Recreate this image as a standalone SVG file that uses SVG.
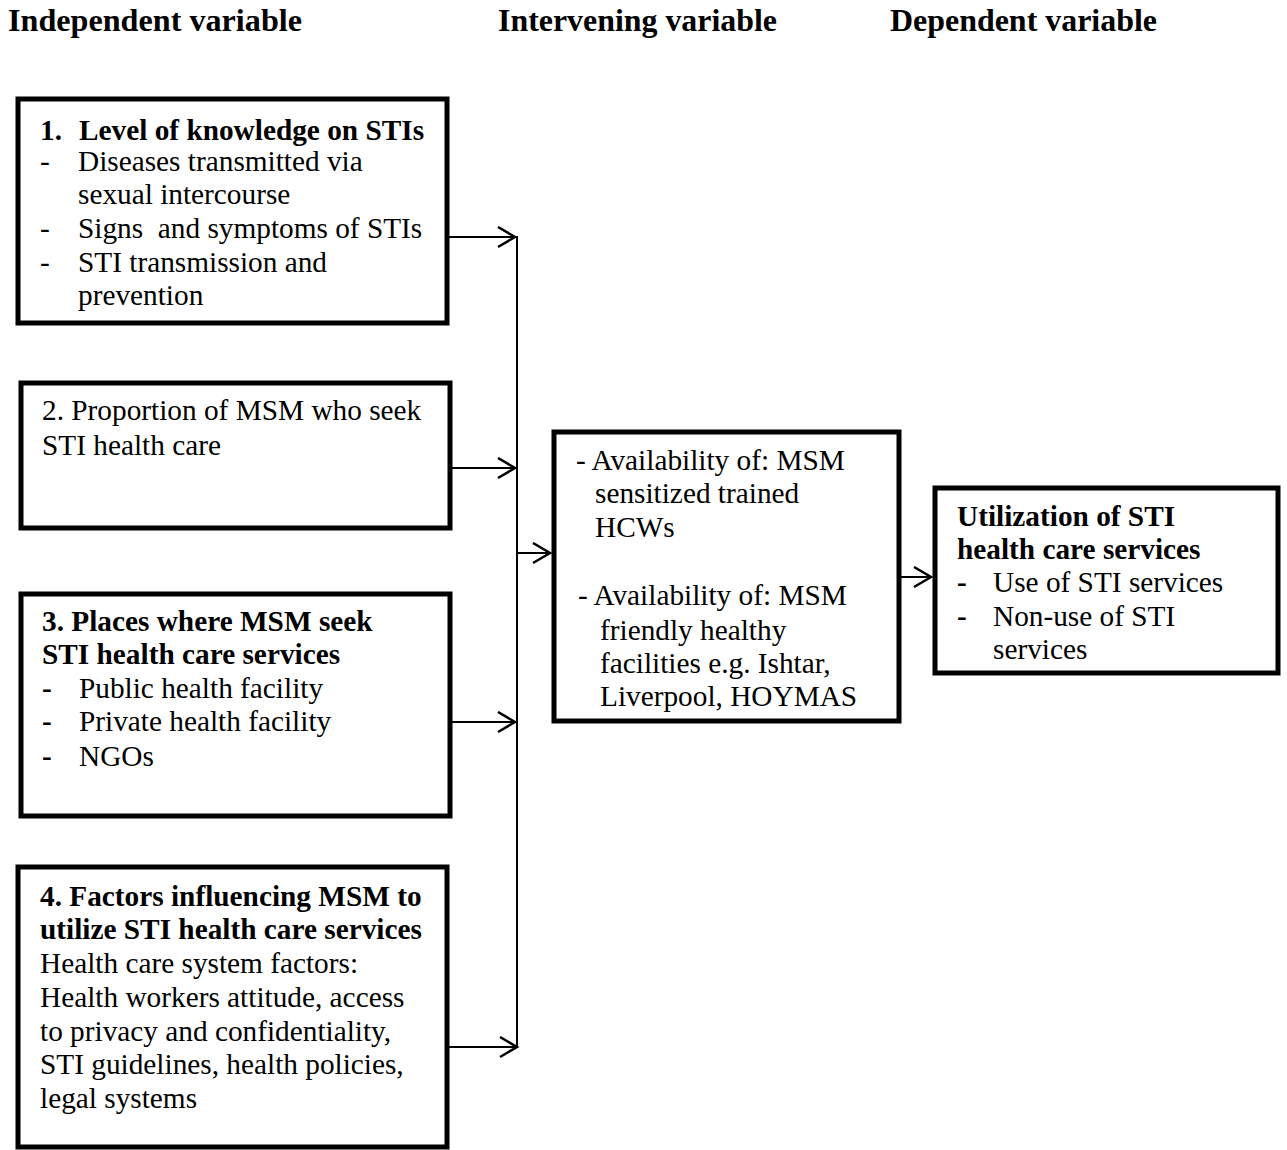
<svg xmlns="http://www.w3.org/2000/svg" width="1287" height="1150" viewBox="0 0 1287 1150">
<style>
text{font-family:"Liberation Serif","Times New Roman",serif;font-size:29.3px;fill:#000}
.h{font-weight:bold;font-size:31px}
.b{font-weight:bold}
.box{fill:#fff;stroke:#000;stroke-width:5}
.con{stroke:#000;stroke-width:2;fill:none}
</style>
<defs>
<marker id="arr" markerUnits="userSpaceOnUse" markerWidth="22" markerHeight="24" refX="19" refY="11" orient="auto">
<path d="M2,1 L19,11 L2,21" fill="none" stroke="#000" stroke-width="2.5"/>
</marker>
</defs>
<rect width="1287" height="1150" fill="#fff"/>
<g id="headers">
<text class="h" x="8" y="31" textLength="294" lengthAdjust="spacingAndGlyphs">Independent variable</text>
<text class="h" x="498" y="31" textLength="279" lengthAdjust="spacingAndGlyphs">Intervening variable</text>
<text class="h" x="890" y="31" textLength="267" lengthAdjust="spacingAndGlyphs">Dependent variable</text>
</g>
<g id="connectors">
<line class="con" x1="517" y1="236" x2="517" y2="1048"/>
<line class="con" x1="448" y1="237" x2="515" y2="237" marker-end="url(#arr)"/>
<line class="con" x1="452" y1="468" x2="515" y2="468" marker-end="url(#arr)"/>
<line class="con" x1="452" y1="722" x2="515" y2="722" marker-end="url(#arr)"/>
<line class="con" x1="447" y1="1047" x2="517" y2="1047" marker-end="url(#arr)"/>
<line class="con" x1="517" y1="553" x2="550" y2="553" marker-end="url(#arr)"/>
<line class="con" x1="901" y1="577" x2="931" y2="577" marker-end="url(#arr)"/>
</g>
<g id="node1">
<rect class="box" x="18" y="99" width="429" height="224"/>
<text class="b" x="40" y="140">1.</text>
<text class="b" x="79" y="140">Level of knowledge on STIs</text>
<text x="40" y="171">-</text><text x="78" y="171">Diseases transmitted via</text>
<text x="78" y="204">sexual intercourse</text>
<text x="40" y="238">-</text><text x="78" y="238" xml:space="preserve">Signs  and symptoms of STIs</text>
<text x="40" y="272">-</text><text x="78" y="272">STI transmission and</text>
<text x="78" y="305">prevention</text>
</g>
<g id="node2">
<rect class="box" x="21" y="383" width="429" height="145"/>
<text x="42" y="420">2. Proportion of MSM who seek</text>
<text x="42" y="455">STI health care</text>
</g>
<g id="node3">
<rect class="box" x="21" y="594" width="429" height="222"/>
<text class="b" x="42" y="631">3. Places where MSM seek</text>
<text class="b" x="42" y="664">STI health care services</text>
<text class="b" x="42" y="698">-</text><text x="79" y="698">Public health facility</text>
<text class="b" x="42" y="731">-</text><text x="79" y="731">Private health facility</text>
<text class="b" x="42" y="766">-</text><text x="79" y="766">NGOs</text>
</g>
<g id="node4">
<rect class="box" x="18" y="867" width="429" height="280"/>
<text class="b" x="40" y="906">4. Factors influencing MSM to</text>
<text class="b" x="40" y="939">utilize STI health care services</text>
<text x="40" y="973">Health care system factors:</text>
<text x="40" y="1007">Health workers attitude, access</text>
<text x="40" y="1041">to privacy and confidentiality,</text>
<text x="40" y="1074">STI guidelines, health policies,</text>
<text x="40" y="1108">legal systems</text>
</g>
<g id="node5">
<rect class="box" x="554" y="432" width="345" height="289"/>
<text x="576" y="470">- Availability of: MSM</text>
<text x="595" y="503">sensitized trained</text>
<text x="595" y="537">HCWs</text>
<text x="578" y="605">-  Availability of: MSM</text>
<text x="600" y="640">friendly healthy</text>
<text x="600" y="673">facilities e.g. Ishtar,</text>
<text x="600" y="706">Liverpool, HOYMAS</text>
</g>
<g id="node6">
<rect class="box" x="935" y="488" width="343" height="185"/>
<text class="b" x="957" y="526">Utilization of STI</text>
<text class="b" x="957" y="559">health care services</text>
<text class="b" x="957" y="592">-</text><text x="993" y="592">Use of STI services</text>
<text class="b" x="957" y="626">-</text><text x="993" y="626">Non-use of STI</text>
<text x="993" y="659">services</text>
</g>
</svg>
